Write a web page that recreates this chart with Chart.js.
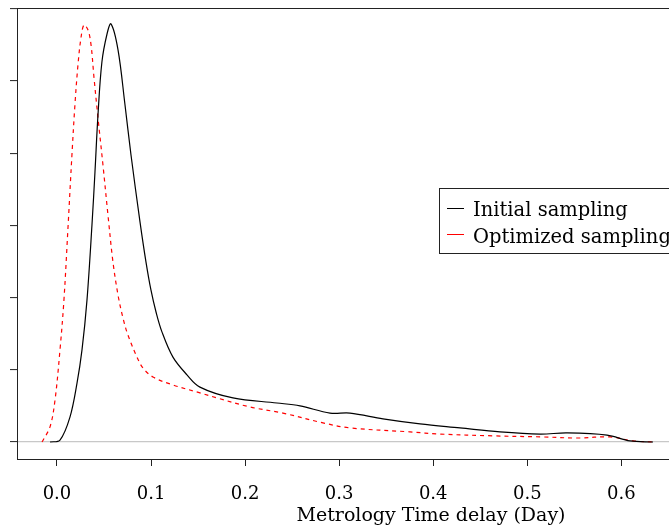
<!DOCTYPE html>
<html>
<head>
<meta charset="utf-8">
<script src="https://cdn.jsdelivr.net/npm/chart.js@4/dist/chart.umd.min.js"></script>
<style>
html,body{margin:0;padding:0;background:#fff;overflow:hidden;width:669px;height:530px;}
#wrap{width:669px;height:530px;overflow:hidden;position:relative;}
canvas{display:block;}
</style>
</head>
<body>
<div id="wrap"><canvas id="c" width="860" height="530"></canvas></div>
<script>
// Density curves (x in days, y density)
const initialX = [-0.0074,0.0032,0.0138,0.0213,0.0266,0.0319,0.0372,0.0404,0.0436,0.0478,0.0532,0.0574,0.0649,0.0723,0.0787,0.0883,0.0946,0.0999,0.1053,0.1116,0.1233,0.1382,0.1520,0.1871,0.2339,0.2584,0.2903,0.3115,0.3466,0.3860,0.4285,0.4710,0.5136,0.5423,0.5848,0.6093,0.6337];
const initialY = [0,0.055,0.69,1.63,2.55,3.93,6.01,7.48,9.06,10.53,11.30,11.58,10.86,9.34,7.95,6.09,4.99,4.21,3.60,3.05,2.35,1.86,1.52,1.22,1.08,1.00,0.80,0.80,0.64,0.50,0.39,0.28,0.22,0.25,0.19,0.03,0];
const optimizedX = [-0.0159,-0.0074,-0.0021,0.0032,0.0074,0.0117,0.0159,0.0191,0.0223,0.0255,0.0287,0.0330,0.0362,0.0393,0.0436,0.0489,0.0542,0.0595,0.0649,0.0702,0.0755,0.0851,0.0914,0.1021,0.1233,0.1520,0.1701,0.2052,0.2403,0.2828,0.3115,0.3753,0.4072,0.4636,0.5167,0.5529,0.5880,0.6124,0.6337];
const optimizedY = [0,0.42,1.16,2.55,3.93,5.93,7.95,9.34,10.44,11.19,11.55,11.41,11.00,10.11,8.98,7.67,6.29,4.99,4.07,3.43,2.96,2.35,2.05,1.80,1.58,1.36,1.22,0.97,0.80,0.53,0.39,0.28,0.22,0.17,0.14,0.11,0.14,0.03,0];
const xTicks = [0.0,0.1,0.2,0.3,0.4,0.5,0.6,0.7,0.8];
const yTicks = [0,2,4,6,8,10,12];
const seriesLabels = ["Initial sampling","Optimized sampling"];
const xTitle = "Metrology Time delay (Day)";

const toPts = (xs, ys) => xs.map((x, i) => ({x, y: ys[i]}));

const frame = {
  id: 'frame',
  afterDraw(chart) {
    const {ctx, chartArea: a} = chart;
    ctx.save();
    ctx.strokeStyle = '#222';
    ctx.lineWidth = 1;
    ctx.strokeRect(Math.round(a.left) + 0.5, Math.round(a.top) + 0.5, Math.round(a.right - a.left), Math.round(a.bottom - a.top));
    // legend box
    const lx = 439, ly = 188, lw = 300, lh = 65;
    ctx.fillStyle = '#fff';
    ctx.fillRect(lx, ly, lw, lh);
    ctx.strokeStyle = '#222';
    ctx.strokeRect(lx + 0.5, ly + 0.5, lw, lh);
    const ds = chart.data.datasets;
    const rows = [{y: 208, base: 216}, {y: 234, base: 243}];
    ctx.font = '19.5px "DejaVu Serif"';
    ctx.textBaseline = 'alphabetic';
    ds.forEach((d, i) => {
      ctx.strokeStyle = d.borderColor;
      ctx.setLineDash([]);
      ctx.beginPath();
      ctx.moveTo(447, rows[i].y + 0.5);
      ctx.lineTo(464, rows[i].y + 0.5);
      ctx.stroke();
      ctx.fillStyle = '#000';
      ctx.fillText(d.label, 473, rows[i].base);
    });
    ctx.restore();
  }
};

new Chart(document.getElementById('c'), {
  type: 'line',
  data: {
    datasets: [
      {label: seriesLabels[0], data: toPts(initialX, initialY), borderColor: '#000000', borderWidth: 1.2, pointRadius: 0, tension: 0.35, fill: false},
      {label: seriesLabels[1], data: toPts(optimizedX, optimizedY), borderColor: '#ff0000', borderWidth: 1.2, borderDash: [4, 4], pointRadius: 0, tension: 0.35, fill: false}
    ]
  },
  options: {
    responsive: false,
    animation: false,
    devicePixelRatio: 1,
    layout: {padding: {top: 8, right: 15, left: 0, bottom: 0}},
    plugins: {legend: {display: false}, tooltip: {enabled: false}},
    scales: {
      x: {
        type: 'linear',
        min: -0.0425,
        max: 0.8378,
        afterFit: s => { s.height = 71; },
        afterBuildTicks: s => { s.ticks = xTicks.map(v => ({value: v})); },
        grid: {drawOnChartArea: false, tickLength: 7, tickColor: '#222', tickWidth: 1},
        border: {color: '#222', width: 1},
        ticks: {
          color: '#000', padding: 18, maxRotation: 0,
          font: {family: 'DejaVu Serif', size: 18},
          callback: v => Number(v).toFixed(1)
        },
        title: {display: true, text: xTitle, color: '#000', font: {family: 'DejaVu Serif', size: 19}, padding: {top: 0, bottom: 3}}
      },
      y: {
        type: 'linear',
        min: -0.471,
        max: 12.02,
        afterFit: s => { s.width = 17; },
        afterBuildTicks: s => { s.ticks = yTicks.map(v => ({value: v})); },
        grid: {
          drawOnChartArea: true, tickLength: 7, tickWidth: 1, tickColor: '#222',
          color: c => (c.tick && c.tick.value === 0) ? '#c8c8c8' : 'rgba(0,0,0,0)',
          lineWidth: 1.2
        },
        border: {color: '#222', width: 1},
        ticks: {display: false}
      }
    }
  },
  plugins: [frame]
});
</script>
</body>
</html>
